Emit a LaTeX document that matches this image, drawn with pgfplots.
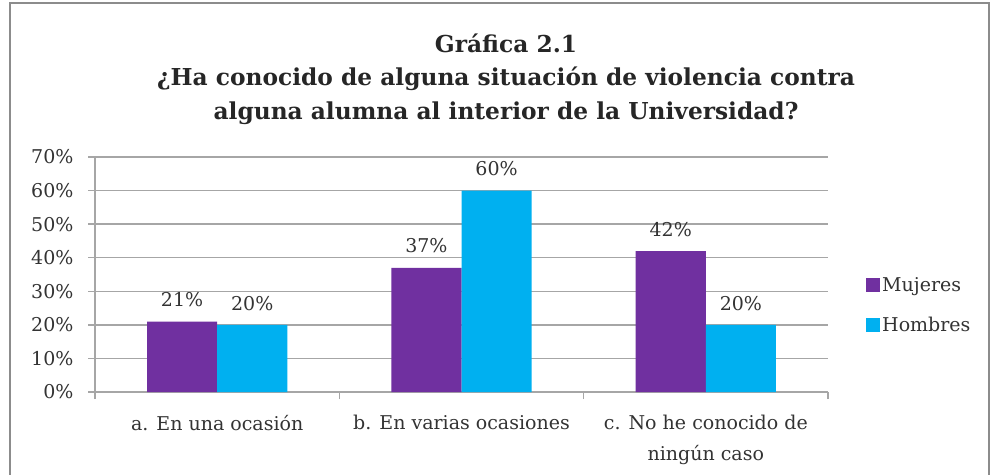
\documentclass[border=0pt]{standalone}
\usepackage{fontspec}
\setmainfont{DejaVu Serif}
\newfontfamily\titlefont{DejaVu Serif}
\usepackage{pgfplots}
\pgfplotsset{compat=1.18}
\definecolor{muj}{HTML}{7030A0}
\definecolor{hom}{HTML}{00B0F0}
\definecolor{gridc}{HTML}{A6A6A6}
\definecolor{framec}{HTML}{8C8C8C}
\begin{document}
\begin{tikzpicture}[x=1pt,y=1pt]
\useasboundingbox (0,0) rectangle (992,474);
\fill[white] (0,0) rectangle (992,474);
\draw[framec, line width=1.5] (10,-5) rectangle (989,471);
\node[font=\titlefont\fontsize{23.3}{33.5}\selectfont\bfseries, align=center, text=black!85] at (506,395)
 {Gráfica 2.1\\¿Ha conocido de alguna situación de violencia contra\\alguna alumna al interior de la Universidad?};
\begin{axis}[
  at={(95pt,82pt)}, anchor=south west,
  width=733pt, height=235pt, scale only axis,
  ybar, bar width=0.287,
  xmin=-0.5, xmax=2.5, ymin=0, ymax=70,
  axis x line*=bottom, axis y line*=left,
  axis line style={gridc, line width=1.3pt},
  ymajorgrids, grid style={gridc, line width=1.3pt},
  ytick={0,10,...,70},
  yticklabel={\pgfmathprintnumber{\tick}\%},
  /pgf/number format/assume math mode=true,
  tick style={gridc, line width=1.3pt},
  major tick length=7pt, tick align=outside,
  yticklabel style={font=\fontsize{19}{22}\selectfont, text=black!80, xshift=-11pt},
  xtick={-0.5,0.5,1.5,2.5}, xticklabels={},
  extra x ticks={0,1,2},
  extra x tick labels={a. En una ocasión, b. En varias ocasiones, {c. No he conocido de\\ningún caso}},
  extra x tick style={major tick length=0pt, grid=none},
  xticklabel style={font=\fontsize{19}{31}\selectfont, text=black!80, align=center, yshift=-20pt},
  nodes near coords={\pgfmathprintnumber{\pgfplotspointmeta}\%},
  every node near coord/.append style={font=\fontsize{19}{22}\selectfont, text=black!80, yshift=11pt},
  legend style={at={(1,0.37)}, anchor=west, xshift=38pt, draw=none, fill=none,
     font=\fontsize{19}{22}\selectfont, text=black!80, row sep=20pt, inner sep=0pt},
  legend cell align=left,
  legend image code/.code={\path[#1,draw=none] (0pt,-7pt) rectangle (14pt,7pt);},
  clip=false,
]
\addplot[bar shift=-0.1435, fill=muj, draw=none] coordinates {(0,21) (1,37) (2,42)};
\addplot[bar shift=0.1435, fill=hom, draw=none] coordinates {(0,20) (1,60) (2,20)};
\legend{Mujeres, Hombres}
\end{axis}
\end{tikzpicture}
\end{document}
